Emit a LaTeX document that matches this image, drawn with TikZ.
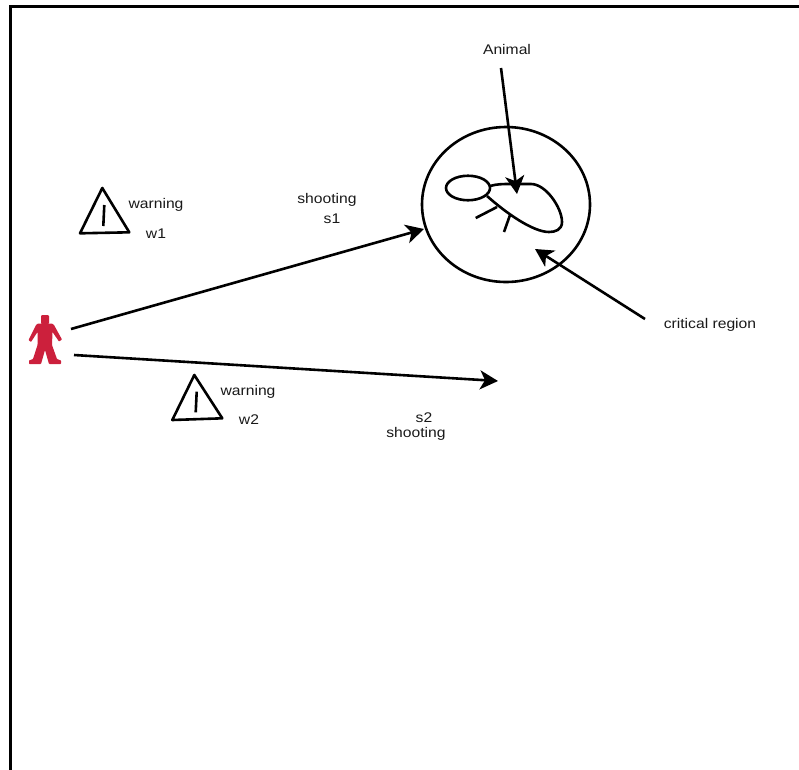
\documentclass[tikz,border=0pt]{standalone}
\usepackage{fontspec}
\setmainfont{Liberation Sans}
\newfontfamily\lblfont[FakeStretch=1.12]{Liberation Sans}
\usetikzlibrary{arrows.meta,shapes.geometric}
\definecolor{personred}{RGB}{204,32,60}
\tikzset{
  lbl/.style={inner sep=0pt,font=\lblfont\fontsize{14}{15}\selectfont,text=black!90},
  ln/.style={line width=2.6pt,black,line join=round},
  arrow/.style={ln,-{Stealth[length=18pt,width=19pt,inset=5pt]}},
  frame/.style={line width=3pt,black},
  oval/.style={ln,draw,ellipse,inner sep=0pt,outer sep=0pt}
}
\begin{document}
\begin{tikzpicture}[x=1pt,y=-1pt]
\useasboundingbox (0,0) rectangle (799,769);
\draw[frame] (10.5,790) -- (10.5,6.5) -- (810,6.5);
% labels
\node[lbl] (animal) at (507,49.5) {Animal};
\node[lbl] (critical) at (710,325) {critical region};
\node[lbl] (shoot1) at (327,200) {shooting};
\node[lbl] (s1) at (332,219) {s1};
\node[lbl] (warn1) at (156,205) {warning};
\node[lbl] (w1) at (156,234) {w1};
\node[lbl] (warn2) at (248,392) {warning};
\node[lbl] (w2) at (249,420) {w2};
\node[lbl] (s2) at (424,417.5) {s2};
\node[lbl] (shoot2) at (416,434) {shooting};
% critical region and animal
\node[oval,minimum width=168pt,minimum height=155pt] (region) at (506,204.5) {};
\node[oval,minimum width=44pt,minimum height=24.5pt] (head) at (468,188) {};
\draw[ln] (490,186) .. controls (497,184) and (503,184) .. (510,184)
  -- (531,184) .. controls (546,184) and (562,208) .. (562,222)
  .. controls (562,230) and (555,232) .. (549,232)
  .. controls (533,232) and (506,213) .. (487,196);
\draw[ln] (475.7,218) -- (497,207);
\draw[ln] (504,232) -- (510,215);
% person
\fill[personred,rounded corners=1pt] (41,315) rectangle (49,324);
\fill[personred,rounded corners=0.6pt]
  (38,323.5) -- (52,323.5) -- (54,325) -- (62,339.5) -- (59,341.5)
  -- (52.5,332) -- (52,345) -- (57,359) -- (61,360.5) -- (61,364) -- (49,364)
  -- (45,350) -- (41,364) -- (29,364) -- (29,360.5) -- (33,359) -- (37.5,345)
  -- (37.5,332) -- (31,342) -- (28.5,340) -- (36,325) -- cycle;
% warning triangles
\draw[ln] (102.3,188) -- (129.3,232.3) -- (80,233.3) -- cycle;
\draw[ln] (104.3,205) -- (103.3,226);
\draw[ln] (194.3,375) -- (222.3,418.3) -- (172.3,420) -- cycle;
\draw[ln] (196.7,391.7) -- (195.7,412.3);
% arrows
\coordinate (a0) at (501,68);  \coordinate (a1) at (517,194);
\coordinate (c0) at (645,319); \coordinate (c1) at (535,249);
\coordinate (p1) at (71,329);  \coordinate (t1) at (424,229);
\coordinate (p2) at (74,355);  \coordinate (t2) at (498,381);
\draw[arrow] (a0) -- (a1);
\draw[arrow] (c0) -- (c1);
\draw[arrow] (p1) -- (t1);
\draw[arrow] (p2) -- (t2);
\end{tikzpicture}
\end{document}
